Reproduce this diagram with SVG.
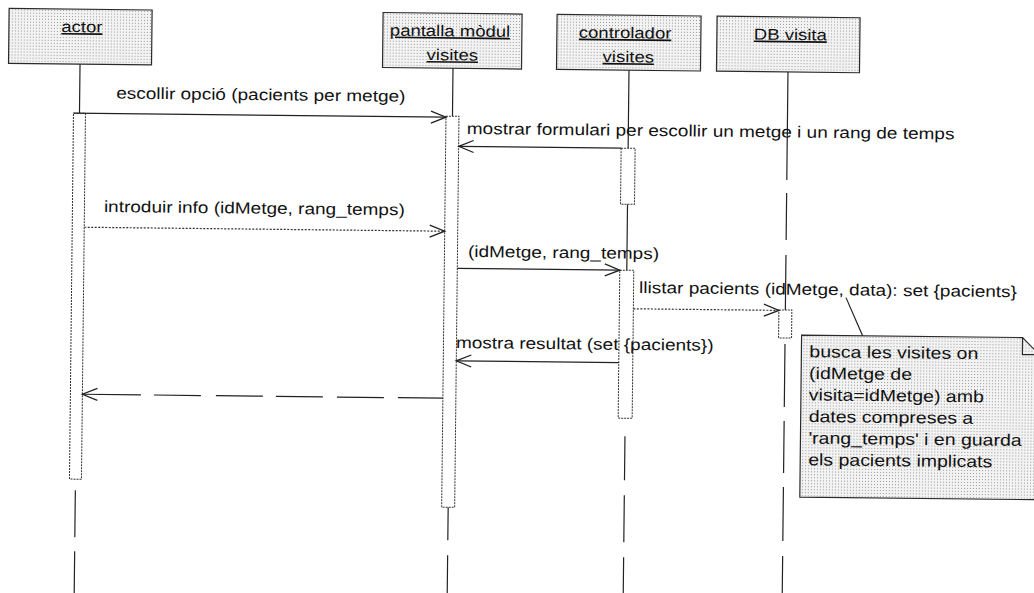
<svg xmlns="http://www.w3.org/2000/svg" width="1034" height="593" viewBox="0 0 1034 593">
<style>
.box{fill:url(#dots);stroke:#2a2a2a;stroke-width:1.2}
.bar{fill:#fff;stroke:#333;stroke-width:1;stroke-dasharray:2 1}
.life{stroke:#222;stroke-width:1.2;fill:none}
.msg{stroke:#222;stroke-width:1.2;fill:none}
.dotl{stroke:#333;stroke-dasharray:2 1.5}
.dash{stroke-dasharray:45 14 47 14 47 13 47 15 47 13 60}
.t{font-family:"Liberation Sans",Arial,sans-serif;font-size:19px;fill:#111}
.h{font-size:18.5px;text-decoration:underline}
.n{font-size:19.5px}
</style>
<defs>
<pattern id="dots" width="3" height="3" patternUnits="userSpaceOnUse"><rect width="3" height="3" fill="#f3f3f3"/><rect width="1" height="1" fill="#9a9a9a"/></pattern>
<marker id="open" viewBox="-17 -8 19 16" refX="0" refY="0" markerWidth="19" markerHeight="16" markerUnits="userSpaceOnUse" orient="auto"><path d="M-15,-6 L0,0 L-15,6" fill="none" stroke="#222" stroke-width="1.3"/></marker>
</defs>
<rect width="1034" height="593" fill="#fff"/>
<g transform="rotate(0.63 517 296)">
<g id="actor">
<rect class="box" x="6" y="14" width="143" height="55"/>
<text class="t h" text-anchor="middle" transform="translate(79 37) scale(1 0.85)">actor</text>
<path class="life" d="M77.5,69V118M77.5,495V542M77.5,556V600"/>
<rect class="bar" x="71.5" y="118" width="12" height="366"/>
</g>
<g id="pantalla">
<rect class="box" x="380" y="14" width="139" height="55"/>
<text class="t h" transform="translate(387 37) scale(1 0.85)">pantalla mòdul</text>
<text class="t h" transform="translate(424 61) scale(1 0.85)">visites</text>
<path class="life" d="M450.5,69V117M450.5,508V541M450.5,556V600"/>
<rect class="bar" x="444" y="117" width="13" height="391"/>
</g>
<g id="controlador">
<rect class="box" x="554" y="14" width="144" height="55"/>
<text class="t h" transform="translate(576 37) scale(1 0.85)">controlador</text>
<text class="t h" transform="translate(600 61) scale(1 0.85)">visites</text>
<path class="life" d="M626.5,69V147M626.5,203V269M626.5,435V479M626.5,494V541M626.5,556V600"/>
<rect class="bar" x="619.5" y="147" width="14" height="56"/>
<rect class="bar" x="619.5" y="269" width="14" height="148"/>
</g>
<g id="db">
<rect class="box" x="714" y="14" width="143" height="55"/>
<text class="t h" transform="translate(751 37) scale(1 0.85)">DB visita</text>
<path class="life" d="M785.5,69V177M785.5,190V237M785.5,252V307M785.5,341V404M785.5,418V470M785.5,484V538M785.5,553V600"/>
<rect class="bar" x="779" y="307" width="13" height="28"/>
</g>
<g id="note">
<path class="box" d="M802,332H1023L1040,349V494H802Z"/>
<path d="M1023,332V349H1040" fill="none" stroke="#2a2a2a" stroke-width="1.2"/>
<text class="t n" transform="translate(810 354) scale(1 0.85)">busca les visites on</text>
<text class="t n" transform="translate(810 375.6) scale(1 0.85)">(idMetge de</text>
<text class="t n" transform="translate(810 397.2) scale(1 0.85)">visita=idMetge) amb</text>
<text class="t n" transform="translate(810 418.8) scale(1 0.85)">dates compreses a</text>
<text class="t n" transform="translate(810 440.4) scale(1 0.85)">'rang_temps' i en guarda</text>
<text class="t n" transform="translate(810 462) scale(1 0.85)">els pacients implicats</text>
</g>
<g id="connectors">
<path class="msg" d="M71.5,118H444" marker-end="url(#open)"/>
<text class="t" transform="translate(114 103) scale(1 0.85)">escollir opció (pacients per metge)</text>
<path class="msg" d="M619.5,147H457" marker-end="url(#open)"/>
<text class="t" transform="translate(465 134.5) scale(1 0.85)">mostrar formulari per escollir un metge i un rang de temps</text>
<path class="msg dotl" d="M83.5,232H444" marker-end="url(#open)"/>
<text class="t" transform="translate(103 216.5) scale(1 0.85)">introduir info (idMetge, rang_temps)</text>
<path class="msg" d="M457,269H619.5" marker-end="url(#open)"/>
<text class="t" transform="translate(467.5 257.5) scale(1 0.85)">(idMetge, rang_temps)</text>
<path class="msg dotl" d="M633.5,307.5H779" marker-end="url(#open)"/>
<text class="t" transform="translate(639 291.7) scale(1 0.85)">llistar pacients (idMetge, data): set {pacients}</text>
<path class="msg" d="M619.5,361.5H457" marker-end="url(#open)"/>
<text class="t" transform="translate(456.5 348.7) scale(1 0.85)">mostra resultat (set {pacients})</text>
<path class="msg dash" d="M444,399H83.5" marker-end="url(#open)"/>
<path class="msg" d="M846,294L863,332"/>
</g>
</g>
</svg>
